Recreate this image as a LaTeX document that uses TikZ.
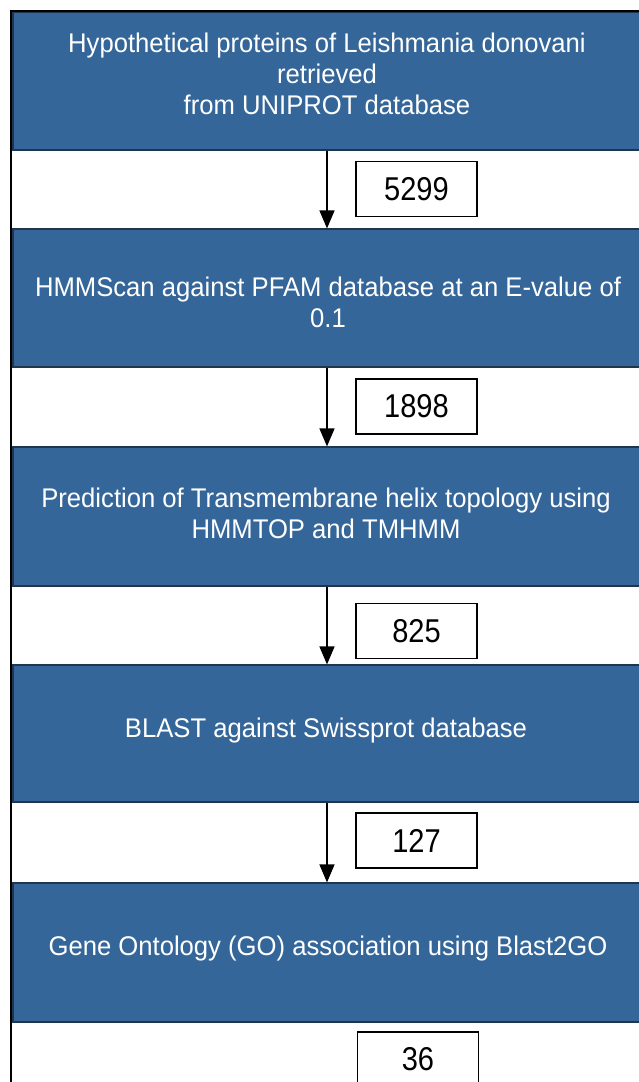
\documentclass[tikz,border=0pt]{standalone}
\usepackage{fontspec}
\setmainfont{Liberation Sans}
\newfontfamily\stagefont[FakeStretch=0.95]{Liberation Sans}
\newfontfamily\numfont[FakeStretch=0.88]{Liberation Sans}
\usetikzlibrary{arrows.meta}
\definecolor{stageblue}{RGB}{52,102,153}
\definecolor{stageedge}{RGB}{33,52,78}
\begin{document}
\begin{tikzpicture}[x=1pt,y=-1pt,
  stagebox/.style={draw=stageedge, line width=1.2pt, fill=stageblue,
    minimum width=647pt, inner sep=0pt},
  stagetext/.style={text=white, align=center, inner sep=0pt,
    font=\stagefont\fontsize{27}{31}\selectfont},
  countbox/.style={draw=black, line width=1.3pt, fill=white,
    minimum width=121pt, minimum height=55pt, inner sep=0pt,
    font=\numfont\fontsize{33}{38}\selectfont},
  flow/.style={-{Triangle[length=18pt,width=15pt]}, line width=1.4pt}]

\useasboundingbox (0,0) rectangle (639,1082);
\clip (0,0) rectangle (639,1082);
\fill[white] (0,0) rectangle (639,1082);

% pipeline stages
\node[stagebox, minimum height=138pt] (s1) at (336.5,81)    {};
\node[stagebox, minimum height=138pt] (s2) at (336.5,298)   {};
\node[stagebox, minimum height=139pt] (s3) at (336.5,516.5) {};
\node[stagebox, minimum height=137pt] (s4) at (336.5,733.5) {};
\node[stagebox, minimum height=139pt] (s5) at (336.5,952.5) {};

\node[stagetext] (t1) at (327,73.4)
  {Hypothetical proteins of Leishmania donovani\\retrieved\\from UNIPROT database};
\node[stagetext] (t2) at (328,302.7)
  {HMMScan against PFAM database at an E-value of\\0.1};
\node[stagetext] (t3) at (326,513.8)
  {Prediction of Transmembrane helix topology using\\HMMTOP and TMHMM};
\node[stagetext, anchor=base] (t4) at (326,737)
  {BLAST against Swissprot database};
\node[stagetext, anchor=base] (t5) at (328,955)
  {Gene Ontology (GO) association using Blast2GO};

% protein counts after each stage
\node[countbox] (c1) at (416.5,189)    {5299};
\node[countbox] (c2) at (416.5,406.5)  {1898};
\node[countbox] (c3) at (416.5,631)    {825};
\node[countbox] (c4) at (416.5,840.5)  {127};
\node[countbox] (c5) at (418,1059.5)   {36};

% flow between stages
\coordinate (ax) at (327,0);
\draw[flow] (s1.south -| ax) -- (s2.north -| ax);
\draw[flow] (s2.south -| ax) -- (s3.north -| ax);
\draw[flow] (s3.south -| ax) -- (s4.north -| ax);
\draw[flow] (s4.south -| ax) -- (s5.north -| ax);

% outer frame
\draw[line width=2pt] (10.5,1095) -- (10.5,11) -- (660,11);
\end{tikzpicture}
\end{document}
